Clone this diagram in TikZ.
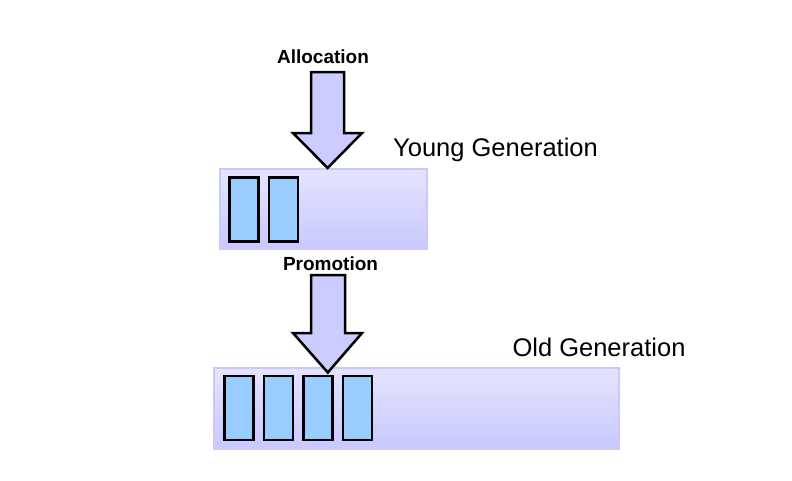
\documentclass[tikz,border=0pt]{standalone}
\usepackage{fontspec}
\setmainfont{Liberation Sans}
\usetikzlibrary{positioning}

\definecolor{boxtop}{HTML}{E4E4FF}
\definecolor{boxbot}{HTML}{C8C8FF}
\definecolor{boxedge}{HTML}{CACAF8}
\definecolor{objfill}{HTML}{99CCFF}
\definecolor{arrowfill}{HTML}{CCCCFF}

\tikzset{
  genbox/.style={draw=boxedge,line width=2pt,top color=boxtop,middle color=boxtop!80!boxbot,bottom color=boxbot,inner sep=0pt},
  objbox/.style={draw=black,line width=2.5pt,fill=objfill,minimum width=29pt,minimum height=64pt,inner sep=0pt},
  blockarrow/.style={draw=black,line width=2.5pt,fill=arrowfill,line join=miter},
  flowlabel/.style={font=\fontsize{19}{22}\selectfont\bfseries,anchor=base,inner sep=0pt},
  genlabel/.style={font=\fontsize{25.5}{30}\selectfont,anchor=base,inner sep=0pt}
}

\begin{document}
\begin{tikzpicture}[x=1pt,y=-1pt]
		\useasboundingbox (0,0) rectangle (792,480);
		% the two generations
		\node[genbox,minimum width=207pt,minimum height=80pt] (young) at (323.5,209.3) {};
		\node[genbox,minimum width=405pt,minimum height=81pt] (old) at (416.7,408.3) {};
		\node[genlabel] (younglbl) at (495.5,156) {Young Generation};
		\node[genlabel] (oldlbl) at (599,356) {Old Generation};
		% objects
		\node[objbox,right=9pt of young.west] (y1) {};
		\node[objbox,right=8pt of y1] (y2) {};
		\node[objbox,right=10pt of old.west,yshift=0.3pt] (o1) {};
		\node[objbox,right=8pt of o1] (o2) {};
		\node[objbox,right=8pt of o2] (o3) {};
		\node[objbox,right=8pt of o3] (o4) {};
		% arrows
		\node[flowlabel] (alloc) at (323,63.3) {Allocation};
		\draw[blockarrow] (311,72) -- (344,72) -- (344,133) -- (362,133) -- (327.6,168) -- (293,133) -- (311,133) -- cycle;
		\node[flowlabel] (promo) at (330.5,270.7) {Promotion};
		\draw[blockarrow] (311,275) -- (345,275) -- (345,333) -- (362,333) -- (327.8,372.5) -- (293,333) -- (311,333) -- cycle;
		\end{tikzpicture}
\end{document}
